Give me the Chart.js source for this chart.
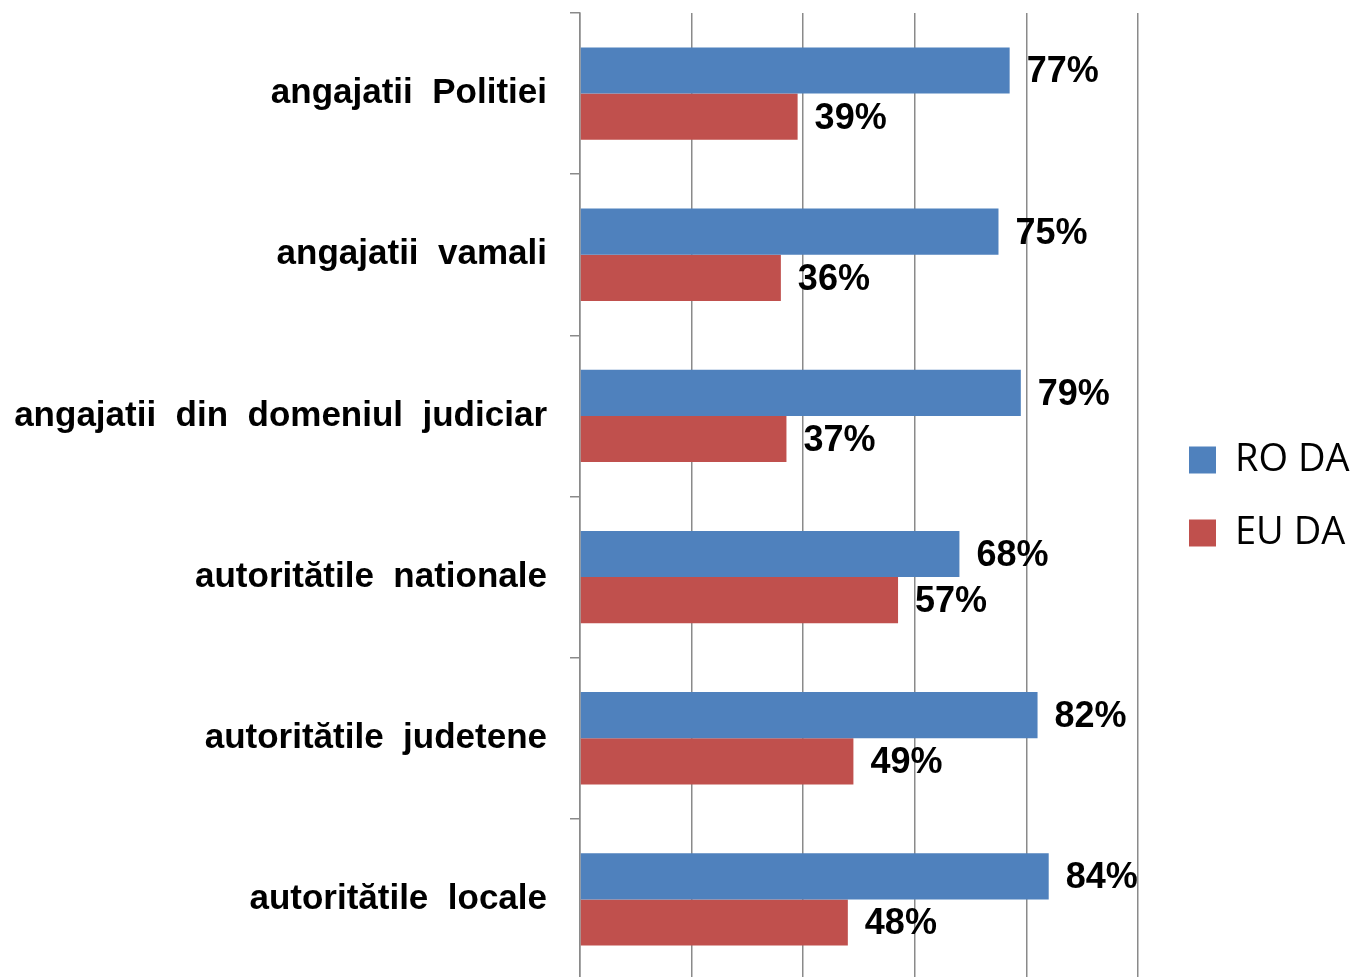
<!DOCTYPE html>
<html>
<head>
<meta charset="utf-8">
<script src="https://cdn.jsdelivr.net/npm/chart.js@4/dist/chart.umd.min.js"></script>
<style>
  html, body { margin: 0; padding: 0; background: #fff; overflow: hidden; }
  canvas { display: block; }
</style>
</head>
<body>
<canvas id="trust-chart" width="1353" height="980"></canvas>
<script>
const categories = [
  'angajatii  Politiei',
  'angajatii  vamali',
  'angajatii  din  domeniul  judiciar',
  'autoritătile  nationale',
  'autoritătile  judetene',
  'autoritătile  locale',
];
const roValues = [77, 75, 79, 68, 82, 84];
const euValues = [39, 36, 37, 57, 49, 48];
const seriesNames = ['RO DA', 'EU DA'];

const gridGray = '#8a8a8a';

// value labels to the right of each bar
const barValueLabels = {
  id: 'barValueLabels',
  afterDatasetsDraw(chart) {
    const ctx = chart.ctx;
    ctx.save();
    ctx.font = 'bold 36px "Liberation Sans", Arial, sans-serif';
    ctx.fillStyle = '#000';
    ctx.textAlign = 'left';
    ctx.textBaseline = 'middle';
    chart.data.datasets.forEach((ds, i) => {
      chart.getDatasetMeta(i).data.forEach((bar, j) => {
        ctx.fillText(ds.data[j] + '%', bar.x + 17, bar.y + 2);
      });
    });
    ctx.restore();
  }
};

new Chart('trust-chart', {
  type: 'bar',
  data: {
    labels: categories,
    datasets: [
      {
        label: seriesNames[0],
        data: roValues,
        backgroundColor: '#4F81BD',
        categoryPercentage: 0.573,
        barPercentage: 1,
      },
      {
        label: seriesNames[1],
        data: euValues,
        backgroundColor: '#C0504D',
        categoryPercentage: 0.573,
        barPercentage: 1,
      },
    ],
  },
  options: {
    indexAxis: 'y',
    responsive: false,
    animation: false,
    layout: { padding: { top: 13, left: 0, right: 0, bottom: 0 } },
    plugins: {
      tooltip: { enabled: false },
      legend: {
        position: 'right',
        align: 'center',
        maxWidth: 199,
        labels: {
          boxWidth: 27,
          boxHeight: 27,
          padding: 35,
          color: '#000',
          font: { family: '"Open Sans", sans-serif', size: 38 },
        },
      },
    },
    scales: {
      x: {
        min: 0,
        max: 102.87,
        ticks: { display: false, stepSize: 20, includeBounds: false },
        grid: { color: gridGray, lineWidth: 1.5, drawTicks: false },
        border: { display: false },
      },
      y: {
        afterFit(scale) {
          scale.width = 580;
          scale.paddingTop = 0;
          scale.paddingBottom = 0;
        },
        ticks: {
          color: '#000',
          padding: 23,
          font: { family: '"Liberation Sans", Arial, sans-serif', size: 35, weight: 'bold' },
        },
        grid: {
          offset: true,
          drawOnChartArea: false,
          tickLength: 10,
          color: gridGray,
          lineWidth: 1.5,
        },
        border: { color: gridGray, width: 1.5 },
      },
    },
  },
  plugins: [barValueLabels],
});
</script>
</body>
</html>
